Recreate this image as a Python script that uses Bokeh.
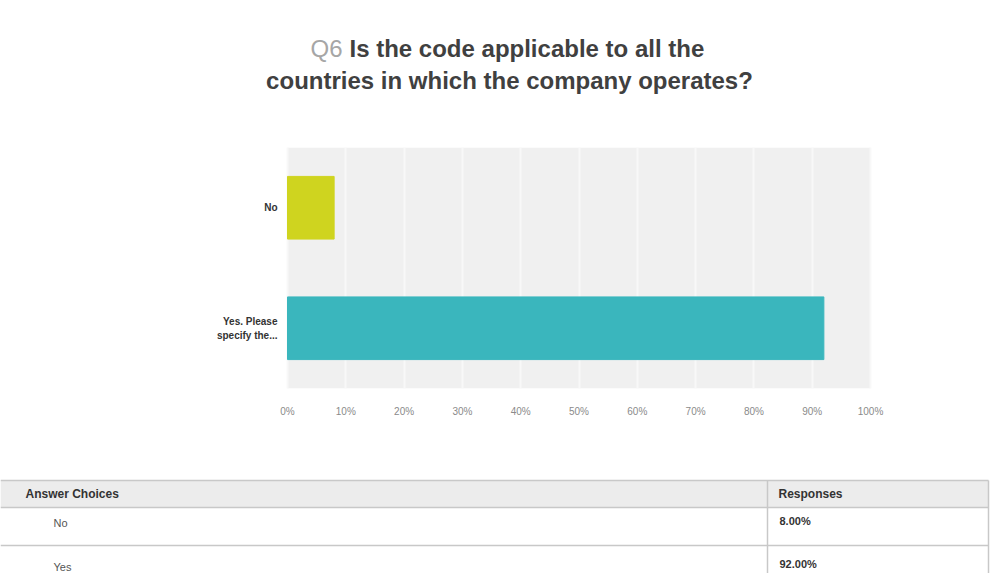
from bokeh.plotting import figure
from bokeh.models import FactorRange, Range1d, FixedTicker, ColumnDataSource, BoxAnnotation
from bokeh.layouts import column
from bokeh.core.properties import value
from bokeh.embed import file_html
from bokeh.resources import INLINE

# ---- data ----
categories = ["No", "Yes. Please specify the..."]
category_labels = ["No", "Yes. Please\nspecify the..."]
percents = [8.0, 92.0]
bar_colors = ["#cfd41f", "#3ab6bd"]
tick_values = [0, 10, 20, 30, 40, 50, 60, 70, 80, 90, 100]
tick_labels = {t: f"{t}%" for t in tick_values}
table_choices = ["No", "Yes"]
table_responses = [f"{v:.2f}%" for v in percents]
title_q = "Q6"
title_line1 = "Is the code applicable to all the"
title_line2 = "countries in which the company operates?"
FONT = "Liberation Sans"

W = 990
PLOT_L, PLOT_R = 287, 870          # pixel span of 0%..100%
TOP_H = 147                        # title area height
CHART_H = 388 - 147                # frame height of bar area
AXIS_H = 42                        # room under chart for tick labels
TABLE_H = 573 - TOP_H - CHART_H - AXIS_H


def blank(fig):
    fig.outline_line_color = None
    fig.background_fill_color = "white"
    fig.border_fill_color = "white"
    fig.grid.visible = False


# ---- title ----
ttl = figure(width=W, height=TOP_H, output_backend="svg", toolbar_location=None,
             x_range=Range1d(0, W), y_range=Range1d(TOP_H, 0),
             x_axis_location=None, y_axis_location=None,
             min_border_left=0, min_border_right=0, min_border_top=0, min_border_bottom=0)
blank(ttl)
ttl.text(x=[310], y=[48], text=[title_q], text_font=value(FONT), text_font_size="24px",
         text_color="#a6a6a6", text_baseline="middle", text_align="left")
ttl.text(x=[349], y=[48], text=[title_line1], text_font=value(FONT), text_font_size="24px",
         text_font_style="bold", text_color="#404040", text_baseline="middle", text_align="left")
ttl.text(x=[509], y=[80], text=[title_line2], text_font=value(FONT), text_font_size="24px",
         text_font_style="bold", text_color="#404040", text_baseline="middle", text_align="center")

# ---- chart ----
span = 100.0 / (PLOT_R - PLOT_L)
x_start = -PLOT_L * span
x_end = x_start + W * span
p = figure(width=W, height=CHART_H + AXIS_H, output_backend="svg", toolbar_location=None,
           y_range=FactorRange(*categories[::-1], range_padding=0),
           x_range=Range1d(x_start, x_end), y_axis_location=None,
           min_border_left=0, min_border_right=0, min_border_top=0, min_border_bottom=AXIS_H)
p.outline_line_color = None
p.background_fill_color = "white"
p.border_fill_color = "white"
p.add_layout(BoxAnnotation(left=0, right=100, fill_color="#f0f0f0", fill_alpha=1,
                           line_color=None, level="image"))

src = ColumnDataSource(dict(cat=categories, val=percents, color=bar_colors, label=category_labels))
p.hbar(y="cat", right="val", left=0, height=0.52, color="color", source=src)
p.text(x=0, y="cat", text="label", source=src, x_offset=-10, text_align="right",
       text_baseline="middle", text_font=value(FONT), text_font_size="10px",
       text_font_style="bold", text_color="#333333", text_line_height=1.3)

p.xaxis.ticker = FixedTicker(ticks=tick_values)
p.xaxis.major_label_overrides = tick_labels
p.xaxis.axis_line_color = None
p.xaxis.major_tick_line_color = None
p.xaxis.minor_tick_line_color = None
p.xaxis.major_label_standoff = 11
p.xaxis.major_label_text_font = FONT
p.xaxis.major_label_text_font_size = "10px"
p.xaxis.major_label_text_color = "#8a8a8a"

p.xgrid.ticker = FixedTicker(ticks=tick_values)
p.xgrid.grid_line_color = "#f8f8f8"
p.xgrid.grid_line_width = 2
p.ygrid.grid_line_color = None

# ---- table ----
t = figure(width=W, height=TABLE_H, output_backend="svg", toolbar_location=None,
           x_range=Range1d(0, W), y_range=Range1d(TABLE_H, 0),
           x_axis_location=None, y_axis_location=None,
           min_border_left=0, min_border_right=0, min_border_top=0, min_border_bottom=0)
blank(t)
t.quad(left=[0], right=[988], top=[50], bottom=[77], fill_color="#ececec", line_color=None)
t.segment(x0=[0, 0, 0], y0=[50, 77, 115], x1=[988, 988, 988], y1=[50, 77, 115],
          line_color="#c8c8c8", line_width=1.5)
t.segment(x0=[767, 988], y0=[50, 50], x1=[767, 988], y1=[TABLE_H, TABLE_H],
          line_color="#c8c8c8", line_width=1.5)

t.text(x=[25], y=[63], text=["Answer Choices"], text_font=value(FONT), text_font_size="12px",
       text_font_style="bold", text_color="#333333", text_baseline="middle")
t.text(x=[778], y=[63], text=["Responses"], text_font=value(FONT), text_font_size="12px",
       text_font_style="bold", text_color="#333333", text_baseline="middle")
t.text(x=[53, 53], y=[92, 136], text=table_choices, text_font=value(FONT), text_font_size="11px",
       text_color="#555555", text_baseline="middle")
t.text(x=[779, 779], y=[90, 133], text=table_responses, text_font=value(FONT),
       text_font_size="11px", text_font_style="bold", text_color="#333333", text_baseline="middle")

layout = column(ttl, p, t, spacing=0)
open("out.html", "w").write(file_html(layout, INLINE))
